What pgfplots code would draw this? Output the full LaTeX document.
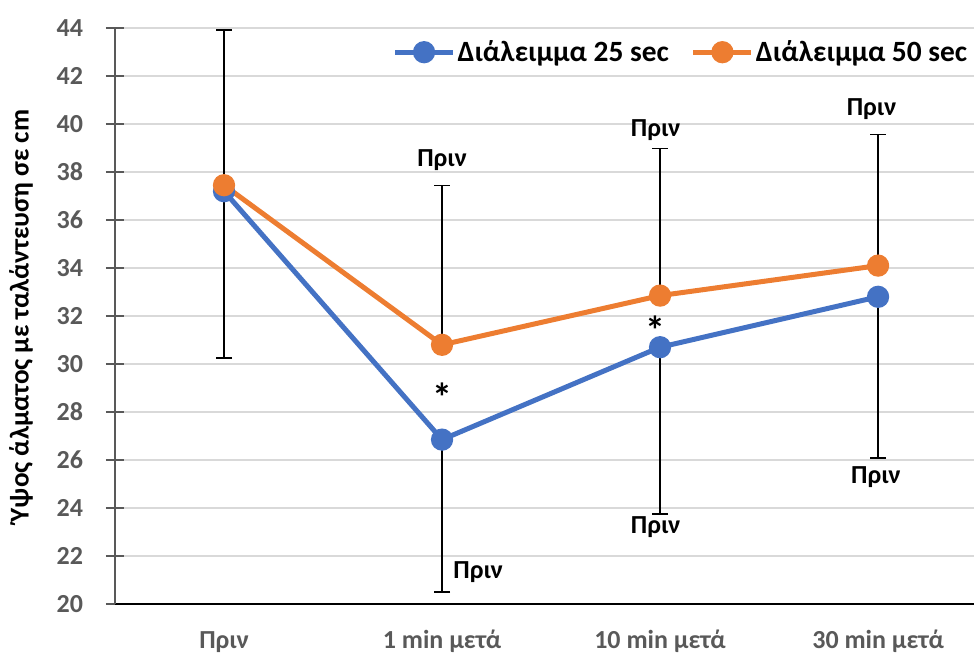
\documentclass[border=0pt]{standalone}
\usepackage{pgfplots}
\pgfplotsset{compat=1.18}
\usepackage{pgfplotstable}
\usepackage{fontspec}
\setmainfont{Carlito}
\definecolor{cblue}{HTML}{4472C4}
\definecolor{corange}{HTML}{ED7D31}
\definecolor{tgray}{HTML}{595959}
\definecolor{ggray}{HTML}{D9D9D9}
\pgfplotstableread{
x y err
0 37.2 6.95
1 26.85 6.35
2 30.7 6.95
3 32.8 6.72
}\blue
\pgfplotstableread{
x y err
0 37.45 6.47
1 30.8 6.65
2 32.85 6.12
3 34.1 5.47
}\orange
\begin{document}
\begin{tikzpicture}
\begin{axis}[
  scale only axis,
  width=429.5pt, height=288pt,
  at={(0,0)}, anchor=south west,
  xmin=-0.5, xmax=3.44,
  ymin=20, ymax=44,
  ytick={20,22,...,44},
  xtick={0,1,2,3},
  xticklabels={Πριν,1 min μετά,10 min μετά,30 min μετά},
  axis x line*=bottom,
  axis y line*=left,
  x axis line style={black, line width=1pt, -},
  y axis line style={tgray, line width=0.8pt, -},
  major x tick style={draw=none},
  major y tick style={tgray, line width=0.8pt},
  tick align=center,
  major tick length=9pt,
  ymajorgrids,
  grid style={ggray, line width=0.8pt},
  /pgf/number format/assume math mode=true,
  ticklabel style={font=\fontsize{13}{13}\selectfont\bfseries, text=tgray},
  yticklabel style={anchor=east, xshift=-8pt},
  xticklabel style={anchor=base, yshift=-17.5pt},
  ylabel={Ύψος άλματος με ταλάντευση σε cm},
  ylabel style={font=\fontsize{13.6}{13.6}\selectfont\bfseries, at={(axis description cs:0,0.5)}, anchor=center, yshift=47pt},
  legend columns=2,
  legend style={at={(axis description cs:0.995,0.958)}, anchor=east, draw=none, fill=white,
    font=\fontsize{14.7}{14.7}\selectfont\bfseries, inner sep=0pt,
    /tikz/every even column/.append style={column sep=10pt},
    nodes={inner sep=1pt}},
  legend image code/.code={\draw[mark repeat=2,mark phase=2] plot coordinates {(0pt,0pt)(14.5pt,0pt)(29pt,0pt)};},
]
\addplot[cblue, line width=2.5pt, mark=*, mark size=4.3pt,
  error bars/.cd, y dir=minus, y explicit,
  error bar style={black, line width=0.7pt},
  error mark options={black, rotate=90, mark size=4pt, line width=0.7pt}]
  table[x=x, y=y, y error=err] {\blue};
\addlegendentry{Διάλειμμα 25 sec}
\addplot[corange, line width=2.5pt, mark=*, mark size=4.3pt,
  error bars/.cd, y dir=plus, y explicit,
  error bar style={black, line width=0.7pt},
  error mark options={black, rotate=90, mark size=4pt, line width=0.7pt}]
  table[x=x, y=y, y error=err] {\orange};
\addlegendentry{Διάλειμμα 50 sec}
\begin{scope}[every node/.style={font=\fontsize{13}{13}\selectfont\bfseries, text=black}]
\node at (axis cs:1,38.5) {Πριν};
\node[anchor=west] at (axis cs:1.02,21.33) {Πριν};
\node at (axis cs:1.98,39.75) {Πριν};
\node at (axis cs:1.98,23.2) {Πριν};
\node at (axis cs:2.97,40.6) {Πριν};
\node at (axis cs:2.99,25.3) {Πριν};
\node[font=\fontsize{20}{20}\selectfont\bfseries] at (axis cs:1,28.6) {*};
\node[font=\fontsize{20}{20}\selectfont\bfseries] at (axis cs:1.98,31.4) {*};
\end{scope}
\end{axis}
\pgfresetboundingbox
\useasboundingbox (-57.5pt,-25.5pt) rectangle (429.5pt,302pt);
\end{tikzpicture}
\end{document}
